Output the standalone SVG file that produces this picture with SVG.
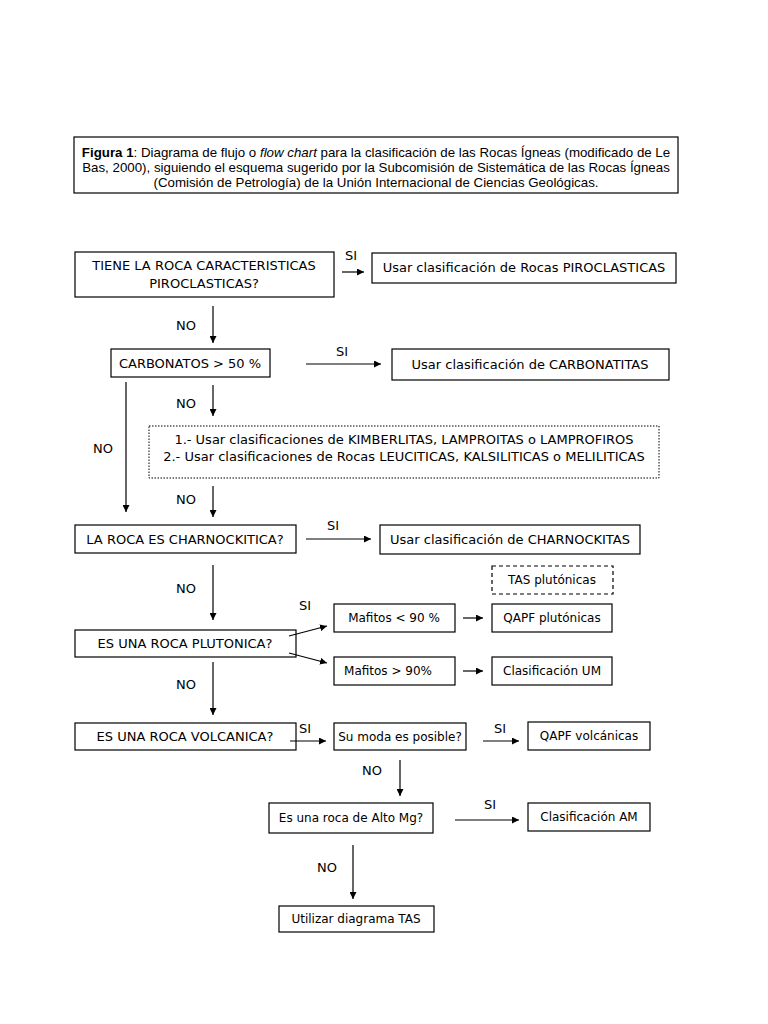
<svg xmlns="http://www.w3.org/2000/svg" width="768" height="1024" viewBox="0 0 768 1024">
<defs>
<marker id="ah" viewBox="0 0 10 10" refX="10" refY="5" markerWidth="7" markerHeight="7" markerUnits="userSpaceOnUse" orient="auto"><path d="M0,0 L10,5 L0,10 z" fill="#000"/></marker>
</defs>
<style>
.b{fill:#fff;stroke:#000;stroke-width:1.2}
.t{font-family:"DejaVu Sans",sans-serif;font-size:13px;fill:#000;text-anchor:middle;dominant-baseline:middle}
.s{font-family:"DejaVu Sans",sans-serif;font-size:12px;fill:#000;text-anchor:middle;dominant-baseline:middle}
.l{font-family:"DejaVu Sans",sans-serif;font-size:13px;fill:#000;text-anchor:middle;dominant-baseline:middle}
.c{font-family:"Liberation Sans",Arial,sans-serif;font-size:13.3px;fill:#000;text-anchor:middle}
.a{stroke:#000;stroke-width:1.2;fill:none;marker-end:url(#ah)}
</style>
<rect width="768" height="1024" fill="#fff"/>
<g id="caption">
<rect x="74" y="137" width="604" height="56" fill="#fff" stroke="#000" stroke-width="1.2"/>
<text class="c" x="376" y="157"><tspan font-weight="bold">Figura 1</tspan>: Diagrama de flujo o <tspan font-style="italic">flow chart</tspan> para la clasificación de las Rocas Ígneas (modificado de Le</text>
<text class="c" x="376" y="172">Bas, 2000), siguiendo el esquema sugerido por la Subcomisión de Sistemática de las Rocas Ígneas</text>
<text class="c" x="376" y="187">(Comisión de Petrología) de la Unión Internacional de Ciencias Geológicas.</text>
</g>
<g id="n1"><rect class="b" x="75" y="252" width="259" height="45"/><text class="t" x="204" y="266">TIENE LA ROCA CARACTERISTICAS</text><text class="t" x="204" y="284">PIROCLASTICAS?</text></g>
<g id="n2"><rect class="b" x="372" y="253" width="304" height="30"/><text class="t" x="524" y="268">Usar clasificación de Rocas PIROCLASTICAS</text></g>
<g id="n3"><rect class="b" x="111" y="349" width="159" height="28"/><text class="t" x="190" y="364">CARBONATOS &gt; 50 %</text></g>
<g id="n4"><rect class="b" x="392" y="349" width="277" height="31"/><text class="t" x="530" y="365">Usar clasificación de CARBONATITAS</text></g>
<g id="n5"><rect x="149" y="426" width="510" height="52" fill="#fff" stroke="#000" stroke-width="1" stroke-dasharray="1.5,1.5"/><text class="t" x="404" y="440">1.- Usar clasificaciones de KIMBERLITAS, LAMPROITAS o LAMPROFIROS</text><text class="t" x="404" y="457">2.- Usar clasificaciones de Rocas LEUCITICAS, KALSILITICAS o MELILITICAS</text></g>
<g id="n6"><rect class="b" x="75" y="525" width="221" height="28"/><text class="t" x="185" y="540">LA ROCA ES CHARNOCKITICA?</text></g>
<g id="n7"><rect class="b" x="380" y="525" width="260" height="29"/><text class="t" x="510" y="540">Usar clasificación de CHARNOCKITAS</text></g>
<g id="n8"><rect x="492" y="566" width="121" height="28" fill="#fff" stroke="#000" stroke-width="1.2" stroke-dasharray="4,3"/><text class="s" x="552" y="580">TAS plutónicas</text></g>
<g id="n9"><rect class="b" x="75" y="630" width="221" height="27"/><text class="t" x="185" y="644">ES UNA ROCA PLUTONICA?</text></g>
<g id="n10"><rect class="b" x="334" y="604" width="121" height="28"/><text class="s" x="394" y="618">Mafitos &lt; 90 %</text></g>
<g id="n11"><rect class="b" x="492" y="604" width="120" height="28"/><text class="s" x="552" y="618">QAPF plutónicas</text></g>
<g id="n12"><rect class="b" x="334" y="657" width="121" height="28"/><text class="s" x="388" y="671">Mafitos &gt; 90%</text></g>
<g id="n13"><rect class="b" x="492" y="657" width="120" height="28"/><text class="s" x="552" y="671">Clasificación UM</text></g>
<g id="n14"><rect class="b" x="75" y="723" width="221" height="27"/><text class="t" x="185" y="737">ES UNA ROCA VOLCANICA?</text></g>
<g id="n15"><rect class="b" x="334" y="723" width="132" height="27"/><text class="s" x="400" y="737">Su moda es posible?</text></g>
<g id="n16"><rect class="b" x="528" y="722" width="122" height="28"/><text class="s" x="589" y="736">QAPF volcánicas</text></g>
<g id="n17"><rect class="b" x="269" y="803" width="164" height="30"/><text class="s" x="351" y="818">Es una roca de Alto Mg?</text></g>
<g id="n18"><rect class="b" x="528" y="803" width="122" height="28"/><text class="s" x="589" y="817">Clasificación AM</text></g>
<g id="n19"><rect class="b" x="279" y="906" width="155" height="26"/><text class="s" x="356" y="919">Utilizar diagrama TAS</text></g>
<g id="connectors">
<line class="a" x1="342" y1="272" x2="364" y2="272"/>
<line class="a" x1="213" y1="306" x2="213" y2="343"/>
<line class="a" x1="306" y1="364" x2="381" y2="364"/>
<line class="a" x1="126" y1="382" x2="126" y2="512"/>
<line class="a" x1="213" y1="385" x2="213" y2="416"/>
<line class="a" x1="213" y1="486" x2="213" y2="517"/>
<line class="a" x1="306" y1="539" x2="371" y2="539"/>
<line class="a" x1="213" y1="565" x2="213" y2="620"/>
<line class="a" x1="289" y1="636" x2="327" y2="626"/>
<line class="a" x1="289" y1="653" x2="327" y2="663"/>
<line class="a" x1="463" y1="618" x2="483" y2="618"/>
<line class="a" x1="463" y1="671" x2="483" y2="671"/>
<line class="a" x1="213" y1="662" x2="213" y2="715"/>
<line class="a" x1="290" y1="741" x2="326" y2="741"/>
<line class="a" x1="483" y1="741" x2="519" y2="741"/>
<line class="a" x1="400" y1="760" x2="400" y2="796"/>
<line class="a" x1="455" y1="820" x2="519" y2="820"/>
<line class="a" x1="353" y1="845" x2="353" y2="899"/>
<text class="l" x="351" y="256">SI</text>
<text class="l" x="186" y="326">NO</text>
<text class="l" x="342" y="352">SI</text>
<text class="l" x="103" y="449">NO</text>
<text class="l" x="186" y="404">NO</text>
<text class="l" x="186" y="500">NO</text>
<text class="l" x="333" y="526">SI</text>
<text class="l" x="186" y="589">NO</text>
<text class="l" x="305" y="606">SI</text>
<text class="l" x="186" y="685">NO</text>
<text class="l" x="305" y="729">SI</text>
<text class="l" x="500" y="729">SI</text>
<text class="l" x="372" y="771">NO</text>
<text class="l" x="490" y="805">SI</text>
<text class="l" x="327" y="868">NO</text>
</g>
</svg>
